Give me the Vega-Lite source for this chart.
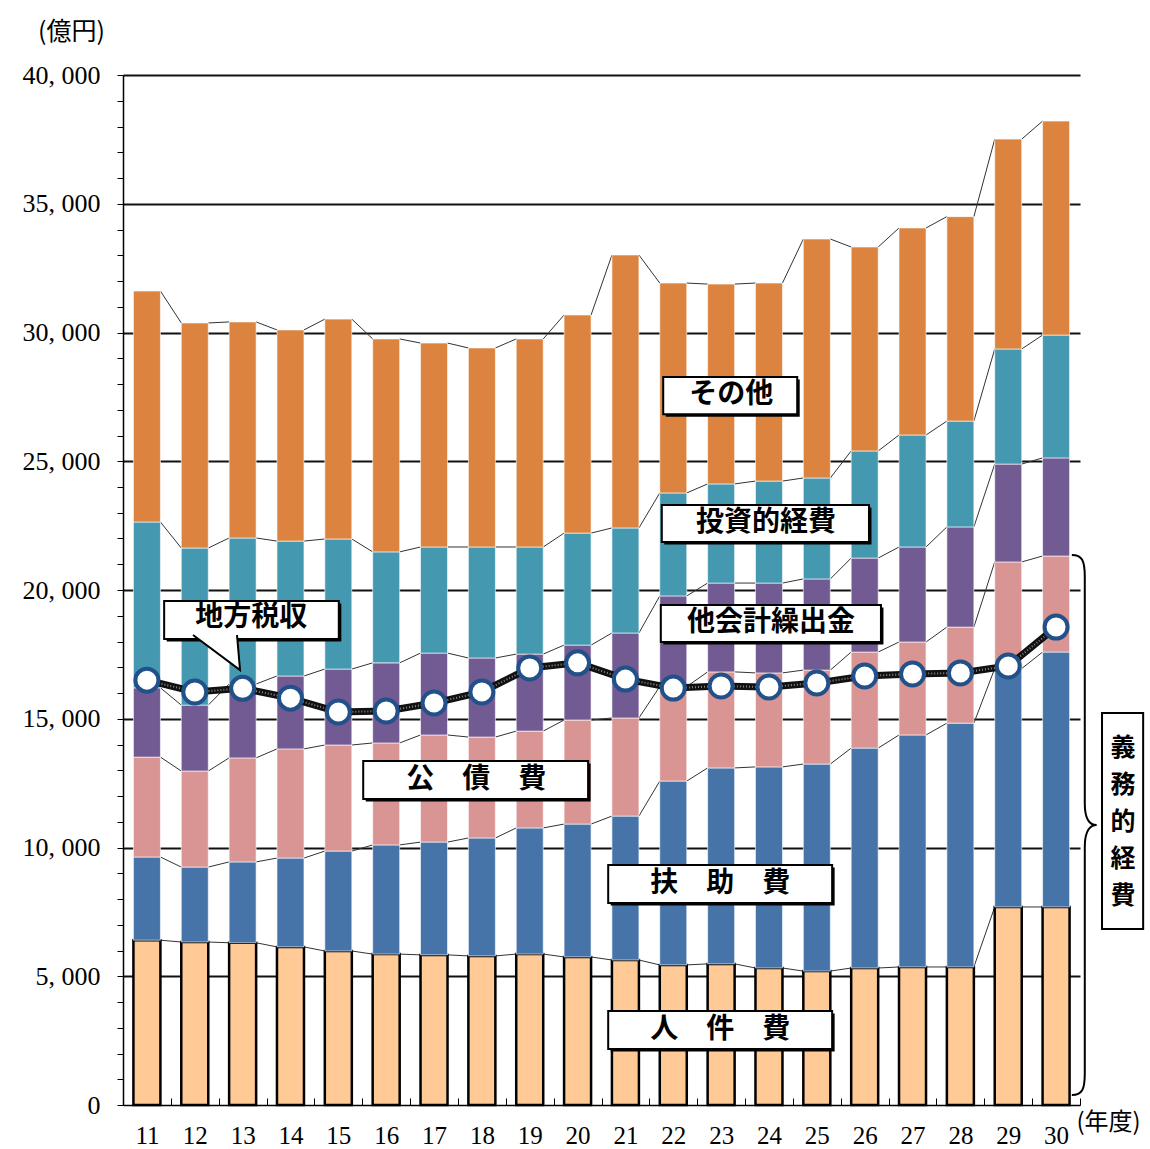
{
  "$schema": "https://vega.github.io/schema/vega-lite/v6.json",
  "width": 957,
  "height": 1030,
  "autosize": {"type": "none"},
  "padding": {"left": 123, "top": 75, "right": 70, "bottom": 44},
  "background": "white",
  "config": {"font": "Liberation Serif", "view": {"stroke": null}, "scale": {"continuousPadding": 0}},
  "resolve": {"axis": {"x": "independent", "y": "independent"}},
  "datasets": {
    "finance": [
      {"year": 11, "人件費": 6400, "扶助費": 3230, "公債費": 3880, "他会計繰出金": 2690, "投資的経費": 6440, "その他": 8970, "地方税収": 16500},
      {"year": 12, "人件費": 6330, "扶助費": 2910, "公債費": 3730, "他会計繰出金": 2560, "投資的経費": 6100, "その他": 8740, "地方税収": 16040},
      {"year": 13, "人件費": 6300, "扶助費": 3140, "公債費": 4040, "他会計繰出金": 2870, "投資的経費": 5670, "その他": 8390, "地方税収": 16180},
      {"year": 14, "人件費": 6140, "扶助費": 3450, "公債費": 4240, "他会計繰出金": 2830, "投資的経費": 5240, "その他": 8200, "地方税収": 15800},
      {"year": 15, "人件費": 5980, "扶助費": 3880, "公債費": 4120, "他会計繰出金": 2950, "投資的経費": 5050, "その他": 8540, "地方税収": 15260},
      {"year": 16, "人件費": 5860, "扶助費": 4240, "公債費": 3960, "他会計繰出金": 3110, "投資的経費": 4310, "その他": 8270, "地方税収": 15300},
      {"year": 17, "人件費": 5830, "扶助費": 4380, "公債費": 4160, "他会計繰出金": 3180, "投資的経費": 4120, "その他": 7920, "地方税収": 15610},
      {"year": 18, "人件費": 5790, "扶助費": 4580, "公債費": 3920, "他会計繰出金": 3070, "投資的経費": 4310, "その他": 7730, "地方税収": 16040},
      {"year": 19, "人件費": 5860, "扶助費": 4900, "公債費": 3760, "他会計繰出金": 2990, "投資的経費": 4160, "その他": 8080, "地方税収": 16970},
      {"year": 20, "人件費": 5750, "扶助費": 5160, "公債費": 4040, "他会計繰出金": 2910, "投資的経費": 4350, "その他": 8470, "地方税収": 17170},
      {"year": 21, "人件費": 5630, "扶助費": 5590, "公債費": 3810, "他会計繰出金": 3300, "投資的経費": 4080, "その他": 10600, "地方税収": 16540},
      {"year": 22, "人件費": 5440, "扶助費": 7140, "公債費": 3670, "他会計繰出金": 3520, "投資的経費": 4000, "その他": 8150, "地方税収": 16190},
      {"year": 23, "人件費": 5480, "扶助費": 7610, "公債費": 3730, "他会計繰出金": 3450, "投資的経費": 3850, "その他": 7760, "地方税収": 16270},
      {"year": 24, "人件費": 5320, "扶助費": 7810, "公債費": 3650, "他会計繰出金": 3490, "投資的経費": 3960, "その他": 7690, "地方税収": 16230},
      {"year": 25, "人件費": 5200, "扶助費": 8040, "公債費": 3650, "他会計繰出金": 3540, "投資的経費": 3920, "その他": 9280, "地方税収": 16390},
      {"year": 26, "人件費": 5320, "扶助費": 8540, "公債費": 3730, "他会計繰出金": 3650, "投資的経費": 4160, "その他": 7920, "地方税収": 16660},
      {"year": 27, "人件費": 5360, "扶助費": 9010, "公債費": 3610, "他会計繰出金": 3690, "投資的経費": 4350, "その他": 8040, "地方税収": 16740},
      {"year": 28, "人件費": 5360, "扶助費": 9470, "公債費": 3730, "他会計繰出金": 3890, "投資的経費": 4110, "その他": 7940, "地方税収": 16780},
      {"year": 29, "人件費": 7690, "扶助費": 9260, "公債費": 4140, "他会計繰出金": 3800, "投資的経費": 4470, "その他": 8150, "地方税収": 17050},
      {"year": 30, "人件費": 7690, "扶助費": 9900, "公債費": 3730, "他会計繰出金": 3810, "投資的経費": 4770, "その他": 8310, "地方税収": 18560}
    ],
    "cats": [
      {"cat": "人件費", "n": 1},
      {"cat": "扶助費", "n": 2},
      {"cat": "公債費", "n": 3},
      {"cat": "他会計繰出金", "n": 4},
      {"cat": "投資的経費", "n": 5},
      {"cat": "その他", "n": 6}
    ]
  },
  "layer": [
    {
      "data": {"name": "finance"},
      "transform": [
        {"fold": ["人件費", "扶助費", "公債費", "他会計繰出金", "投資的経費", "その他"], "as": ["key", "value"]},
        {"lookup": "key", "from": {"data": {"name": "cats"}, "key": "cat", "fields": ["n"]}},
        {"stack": "value", "groupby": ["year"], "sort": [{"field": "n", "order": "ascending"}], "as": ["lo", "hi"]},
        {"window": [{"op": "lead", "field": "hi", "as": "hiNext"}, {"op": "lead", "field": "year", "as": "yearNext"}], "groupby": ["key"], "sort": [{"field": "year", "order": "ascending"}]},
        {"filter": "isValid(datum.yearNext)"}
      ],
      "mark": {"type": "rule", "xOffset": 13.5, "x2Offset": -13.5, "color": "#333333", "strokeWidth": 1},
      "encoding": {
        "x": {"field": "year", "type": "quantitative",
          "scale": {"domain": [10.5, 30.5], "nice": false, "zero": false, "padding": 0},
          "axis": {"orient": "bottom", "values": [10.5, 11.5, 12.5, 13.5, 14.5, 15.5, 16.5, 17.5, 18.5, 19.5, 20.5, 21.5, 22.5, 23.5, 24.5, 25.5, 26.5, 27.5, 28.5, 29.5, 30.5],
            "labels": false, "grid": false, "title": null, "ticks": true, "tickSize": -7, "tickColor": "#000", "tickWidth": 1,
            "domain": true, "domainColor": "#000", "domainWidth": 1.5}},
        "x2": {"field": "yearNext"},
        "y": {"field": "hi", "type": "quantitative",
          "scale": {"domain": [0, 40000], "nice": false, "zero": true, "padding": 0},
          "axis": {"orient": "left", "tickCount": 40, "labelExpr": "datum.value % 5000 === 0 ? replace(format(datum.value, ','), ',', ', ') : ''",
            "labelFont": "Liberation Serif", "labelFontSize": 26, "labelColor": "#000", "labelPadding": 17,
            "tickSize": 6, "tickColor": "#000", "tickWidth": 1,
            "domain": true, "domainColor": "#000", "domainWidth": 1.5,
            "grid": true, "gridColor": "#111", "gridWidth": 2,
            "gridOpacity": {"condition": {"test": "datum.value % 5000 === 0 && datum.value > 0", "value": 1}, "value": 0},
            "title": "(億円)", "titleAngle": 0, "titleX": -52, "titleY": -44, "titleAlign": "center", "titleBaseline": "middle",
            "titleFont": "Noto Sans CJK JP", "titleFontSize": 25, "titleFontWeight": "normal", "titleColor": "#000"}},
        "y2": {"field": "hiNext"}
      }
    },
    {
      "data": {"name": "finance"},
      "transform": [
        {"fold": ["人件費", "扶助費", "公債費", "他会計繰出金", "投資的経費", "その他"], "as": ["key", "value"]},
        {"lookup": "key", "from": {"data": {"name": "cats"}, "key": "cat", "fields": ["n"]}},
        {"stack": "value", "groupby": ["year"], "sort": [{"field": "n", "order": "ascending"}], "as": ["lo", "hi"]}
      ],
      "mark": {"type": "bar", "size": 27},
      "encoding": {
        "x": {"field": "year", "type": "quantitative",
          "axis": {"orient": "bottom", "values": [11, 12, 13, 14, 15, 16, 17, 18, 19, 20, 21, 22, 23, 24, 25, 26, 27, 28, 29, 30],
            "labelFont": "Liberation Serif", "labelFontSize": 25, "labelColor": "#000", "labelPadding": 18,
            "ticks": false, "domain": false, "grid": false,
            "title": "(年度)", "titleX": 953, "titleY": 17, "titleAlign": "left", "titleBaseline": "middle",
            "titleFont": "Noto Sans CJK JP", "titleFontSize": 24, "titleFontWeight": "normal", "titleColor": "#000"}},
        "y": {"field": "lo", "type": "quantitative", "axis": null},
        "y2": {"field": "hi"},
        "color": {"field": "key", "type": "nominal",
          "scale": {"domain": ["人件費", "扶助費", "公債費", "他会計繰出金", "投資的経費", "その他"],
            "range": ["#FFCA96", "#4674A9", "#D99594", "#725A92", "#4499B0", "#DC843F"]},
          "legend": null},
        "stroke": {"condition": {"test": "datum.key === '人件費'", "value": "#000000"}, "value": "#ffffff"},
        "strokeWidth": {"condition": {"test": "datum.key === '人件費'", "value": 2.5}, "value": 0.6}
      }
    },
    {
      "data": {"name": "finance"},
      "mark": {"type": "line", "color": "#111111", "strokeWidth": 7},
      "encoding": {
        "x": {"field": "year", "type": "quantitative", "axis": null},
        "y": {"field": "地方税収", "type": "quantitative", "axis": null}
      }
    },
    {
      "data": {"name": "finance"},
      "mark": {"type": "line", "color": "#888888", "strokeWidth": 2, "strokeDash": [1, 2]},
      "encoding": {
        "x": {"field": "year", "type": "quantitative", "axis": null},
        "y": {"field": "地方税収", "type": "quantitative", "axis": null}
      }
    },
    {
      "data": {"name": "finance"},
      "mark": {"type": "point", "shape": "circle", "filled": true, "fill": "#ffffff", "stroke": "#22518A", "strokeWidth": 4, "size": 529, "opacity": 1},
      "encoding": {
        "x": {"field": "year", "type": "quantitative", "axis": null},
        "y": {"field": "地方税収", "type": "quantitative", "axis": null}
      }
    },
    {
      "data": {"values": [{}]},
      "encoding": {
        "x": {"datum": 21.79, "type": "quantitative", "axis": null},
        "x2": {"datum": 24.59},
        "y": {"datum": 28270, "type": "quantitative", "axis": null},
        "y2": {"datum": 26830}
      },
      "layer": [
        {"mark": {"type": "rect", "fill": "#000", "xOffset": 2.5, "x2Offset": 2.5, "yOffset": 2.5, "y2Offset": 2.5}},
        {"mark": {"type": "rect", "fill": "#fff", "stroke": "#000", "strokeWidth": 2}}
      ]
    },
    {
      "data": {"values": [{}]},
      "encoding": {
        "x": {"datum": 21.76, "type": "quantitative", "axis": null},
        "x2": {"datum": 26.09},
        "y": {"datum": 23300, "type": "quantitative", "axis": null},
        "y2": {"datum": 21860}
      },
      "layer": [
        {"mark": {"type": "rect", "fill": "#000", "xOffset": 2.5, "x2Offset": 2.5, "yOffset": 2.5, "y2Offset": 2.5}},
        {"mark": {"type": "rect", "fill": "#fff", "stroke": "#000", "strokeWidth": 2}}
      ]
    },
    {
      "data": {"values": [{}]},
      "encoding": {
        "x": {"datum": 21.74, "type": "quantitative", "axis": null},
        "x2": {"datum": 26.34},
        "y": {"datum": 19420, "type": "quantitative", "axis": null},
        "y2": {"datum": 17980}
      },
      "layer": [
        {"mark": {"type": "rect", "fill": "#000", "xOffset": 2.5, "x2Offset": 2.5, "yOffset": 2.5, "y2Offset": 2.5}},
        {"mark": {"type": "rect", "fill": "#fff", "stroke": "#000", "strokeWidth": 2}}
      ]
    },
    {
      "data": {"values": [{}]},
      "encoding": {
        "x": {"datum": 11.36, "type": "quantitative", "axis": null},
        "x2": {"datum": 15.01},
        "y": {"datum": 19570, "type": "quantitative", "axis": null},
        "y2": {"datum": 18100}
      },
      "layer": [
        {"mark": {"type": "rect", "fill": "#000", "xOffset": 2.5, "x2Offset": 2.5, "yOffset": 2.5, "y2Offset": 2.5}},
        {"mark": {"type": "rect", "fill": "#fff", "stroke": "#000", "strokeWidth": 2}}
      ]
    },
    {
      "data": {"values": [{}]},
      "mark": {"type": "point", "shape": "M-0.92,-0.72 L0.96,0.68 L0.84,-0.72", "filled": true, "fill": "#fff", "stroke": "#000", "strokeWidth": 2, "size": 2500, "opacity": 1},
      "encoding": {
        "x": {"datum": 12.444, "type": "quantitative", "axis": null},
        "y": {"datum": 17553, "type": "quantitative", "axis": null}
      }
    },
    {
      "data": {"values": [{}]},
      "encoding": {
        "x": {"datum": 15.52, "type": "quantitative", "axis": null},
        "x2": {"datum": 20.22},
        "y": {"datum": 13360, "type": "quantitative", "axis": null},
        "y2": {"datum": 11880}
      },
      "layer": [
        {"mark": {"type": "rect", "fill": "#000", "xOffset": 2.5, "x2Offset": 2.5, "yOffset": 2.5, "y2Offset": 2.5}},
        {"mark": {"type": "rect", "fill": "#fff", "stroke": "#000", "strokeWidth": 2}}
      ]
    },
    {
      "data": {"values": [{}]},
      "encoding": {
        "x": {"datum": 20.64, "type": "quantitative", "axis": null},
        "x2": {"datum": 25.32},
        "y": {"datum": 9320, "type": "quantitative", "axis": null},
        "y2": {"datum": 7845}
      },
      "layer": [
        {"mark": {"type": "rect", "fill": "#000", "xOffset": 2.5, "x2Offset": 2.5, "yOffset": 2.5, "y2Offset": 2.5}},
        {"mark": {"type": "rect", "fill": "#fff", "stroke": "#000", "strokeWidth": 2}}
      ]
    },
    {
      "data": {"values": [{}]},
      "encoding": {
        "x": {"datum": 20.64, "type": "quantitative", "axis": null},
        "x2": {"datum": 25.32},
        "y": {"datum": 3650, "type": "quantitative", "axis": null},
        "y2": {"datum": 2175}
      },
      "layer": [
        {"mark": {"type": "rect", "fill": "#000", "xOffset": 2.5, "x2Offset": 2.5, "yOffset": 2.5, "y2Offset": 2.5}},
        {"mark": {"type": "rect", "fill": "#fff", "stroke": "#000", "strokeWidth": 2}}
      ]
    },
    {
      "data": {"values": [{}]},
      "encoding": {
        "x": {"datum": 30.96, "type": "quantitative", "axis": null},
        "x2": {"datum": 31.82},
        "y": {"datum": 15220, "type": "quantitative", "axis": null},
        "y2": {"datum": 6835}
      },
      "layer": [
        {"mark": {"type": "rect", "fill": "#fff", "stroke": "#000", "strokeWidth": 2}}
      ]
    },
    {
      "data": {"values": [{}]},
      "mark": {"type": "point", "shape": "M-0.048,-1 C-0.01,-1 0,-0.98 0,-0.92 L0,-0.08 C0,-0.02 0.02,0 0.044,0 C0.02,0 0,0.02 0,0.08 L0,0.92 C0,0.98 -0.01,1 -0.048,1", "filled": false, "stroke": "#000", "strokeWidth": 2, "size": 291600, "opacity": 1},
      "encoding": {
        "x": {"datum": 30.6, "type": "quantitative", "axis": null},
        "y": {"datum": 10874, "type": "quantitative", "axis": null}
      }
    },
    {
      "data": {"values": [
        {"t": "その他", "xp": 23.21, "yp": 27570},
        {"t": "投資的経費", "xp": 23.94, "yp": 22600},
        {"t": "他会計繰出金", "xp": 24.04, "yp": 18720},
        {"t": "地方税収", "xp": 13.18, "yp": 18910},
        {"t": "公　債　費", "xp": 17.88, "yp": 12620},
        {"t": "扶　助　費", "xp": 22.98, "yp": 8580},
        {"t": "人　件　費", "xp": 22.98, "yp": 2910}
      ]},
      "mark": {"type": "text", "font": "Noto Sans CJK JP", "fontWeight": "bold", "fontSize": 28, "align": "center", "baseline": "middle", "color": "#000"},
      "encoding": {
        "x": {"field": "xp", "type": "quantitative", "axis": null},
        "y": {"field": "yp", "type": "quantitative", "axis": null},
        "text": {"field": "t"}
      }
    },
    {
      "data": {"values": [
        {"c": "義", "yp": 13864},
        {"c": "務", "yp": 12427},
        {"c": "的", "yp": 10990},
        {"c": "経", "yp": 9553},
        {"c": "費", "yp": 8117}
      ]},
      "mark": {"type": "text", "font": "Noto Sans CJK JP", "fontWeight": "bold", "fontSize": 25, "align": "center", "baseline": "middle", "color": "#000"},
      "encoding": {
        "x": {"datum": 31.4, "type": "quantitative", "axis": null},
        "y": {"field": "yp", "type": "quantitative", "axis": null},
        "text": {"field": "c"}
      }
    }
  ]
}
